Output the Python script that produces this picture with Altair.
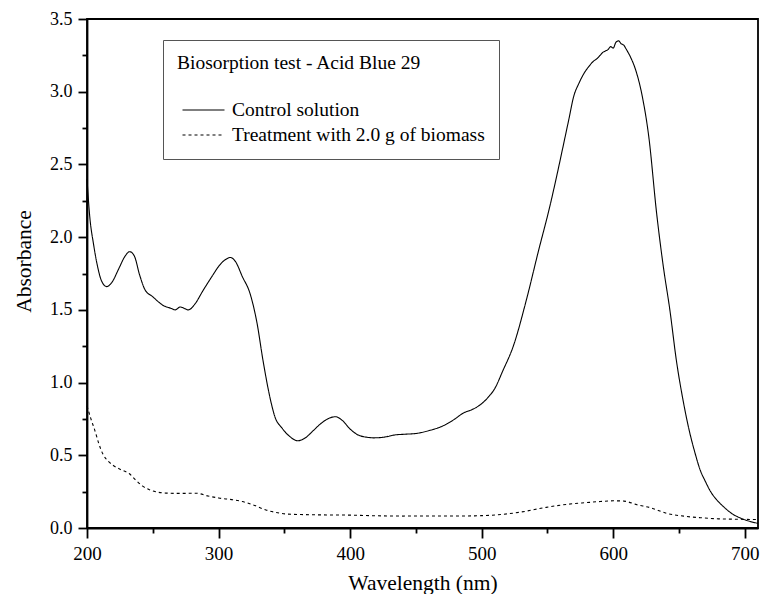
import altair as alt
import pandas as pd

# Control solution (solid line)
ctrl_wl = [200, 202, 205, 208, 211, 215, 219, 224, 229, 232.5, 236, 240, 244, 250, 258, 264, 267, 271, 274, 277,
           282, 288, 295, 301, 306, 309, 313, 318, 324, 329, 334, 339, 343, 348, 354, 360, 366, 372, 378, 384,
           389, 394, 400, 406, 412, 418, 426, 434, 442, 450, 460, 470, 478, 486, 494, 500, 505, 510, 516, 524,
           534, 543, 552, 557, 562, 566, 570, 574, 578, 582, 585, 588, 590, 592, 594, 596, 598, 600, 602, 604,
           606, 608, 610, 613, 617, 622, 627, 633, 638, 643, 648, 653, 658, 662, 666, 670, 674, 679, 684, 690,
           697, 704, 710]
ctrl_abs = [2.40, 2.15, 1.95, 1.80, 1.70, 1.66, 1.69, 1.78, 1.87, 1.90, 1.87, 1.74, 1.64, 1.59, 1.53, 1.51, 1.50, 1.52, 1.51, 1.50,
            1.54, 1.63, 1.73, 1.81, 1.85, 1.86, 1.83, 1.73, 1.61, 1.42, 1.14, 0.90, 0.76, 0.69, 0.63, 0.60, 0.62, 0.67, 0.72, 0.755,
            0.765, 0.74, 0.68, 0.64, 0.625, 0.62, 0.625, 0.64, 0.645, 0.65, 0.67, 0.70, 0.74, 0.79, 0.82, 0.855, 0.90, 0.96, 1.08, 1.25,
            1.57, 1.90, 2.22, 2.42, 2.63, 2.80, 2.97, 3.06, 3.13, 3.18, 3.21, 3.23, 3.25, 3.27, 3.28, 3.29, 3.31, 3.30, 3.34, 3.35,
            3.33, 3.32, 3.29, 3.24, 3.15, 2.97, 2.69, 2.16, 1.80, 1.50, 1.15, 0.88, 0.66, 0.52, 0.40, 0.32, 0.25, 0.19, 0.145, 0.10,
            0.067, 0.045, 0.032]

# Treatment with 2.0 g of biomass (dashed line)
treat_wl = [200, 203, 206, 209, 212, 216, 220, 226, 232, 237, 242, 247, 252, 260, 270, 283, 292, 301, 310, 318,
            326, 336, 345, 352, 365, 380, 397, 420, 440, 461, 480, 500, 515, 530, 549, 565, 580, 590, 600, 608,
            618, 628, 641, 655, 666, 680, 695, 710]
treat_abs = [0.84, 0.75, 0.67, 0.58, 0.51, 0.46, 0.43, 0.40, 0.375, 0.33, 0.29, 0.265, 0.25, 0.24, 0.238, 0.239, 0.22, 0.205, 0.195, 0.182,
             0.16, 0.124, 0.105, 0.096, 0.092, 0.09, 0.089, 0.084, 0.082, 0.083, 0.082, 0.085, 0.093, 0.11, 0.142, 0.163, 0.175, 0.182, 0.187, 0.185,
             0.16, 0.14, 0.10, 0.08, 0.071, 0.063, 0.06, 0.058]

series_names = ["Control solution", "Treatment with 2.0 g of biomass"]
x_ticks = [200, 250, 300, 350, 400, 450, 500, 550, 600, 650, 700]
y_ticks = [0, 0.25, 0.5, 0.75, 1.0, 1.25, 1.5, 1.75, 2.0, 2.25, 2.5, 2.75, 3.0, 3.25, 3.5]

df = pd.concat([
    pd.DataFrame({"wavelength": ctrl_wl, "absorbance": ctrl_abs, "series": series_names[0]}),
    pd.DataFrame({"wavelength": treat_wl, "absorbance": treat_abs, "series": series_names[1]}),
])

FONT = "Liberation Serif"

chart = alt.Chart(df).mark_line(color="black", strokeWidth=1.1, interpolate="monotone").encode(
    x=alt.X("wavelength:Q",
            scale=alt.Scale(domain=[200, 710], nice=False, zero=False),
            axis=alt.Axis(title="Wavelength (nm)", values=x_ticks,
                          labelExpr="datum.value % 100 === 0 ? datum.label : ''",
                          tickSize={"condition": {"test": "datum.value % 100 !== 0", "value": 5}, "value": 10},
                          labelFont=FONT, labelFontSize=19, labelPadding=6, labelFlush=False,
                          titleX=335.5, titleY=55, titleBaseline="middle")),
    y=alt.Y("absorbance:Q",
            scale=alt.Scale(domain=[0, 3.5], nice=False),
            axis=alt.Axis(title="Absorbance", values=y_ticks, format=".1f",
                          labelExpr="round(datum.value * 100) % 50 === 0 ? datum.label : ''",
                          tickSize={"condition": {"test": "round(datum.value * 100) % 50 !== 0", "value": 5}, "value": 9},
                          labelFont=FONT, labelFontSize=18, labelPadding=6, labelFlush=False,
                          titleX=-63, titleY=242, titleBaseline="middle")),
    strokeDash=alt.StrokeDash("series:N",
                              scale=alt.Scale(domain=series_names, range=[[1, 0], [3, 3]]),
                              legend=alt.Legend(title="Biosorption test - Acid Blue 29",
                                                orient="none", legendX=76, legendY=21,
                                                padding=14, strokeColor="#555", fillColor="white",
                                                symbolType="M-2,0H2", symbolSize=441,
                                                symbolOffset=15,
                                                symbolStrokeColor="black", symbolStrokeWidth=1.1,
                                                labelFont=FONT, labelFontSize=19.5, labelColor="black",
                                                labelOffset=17, labelLimit=500,
                                                titleFont=FONT, titleFontSize=19.5, titleFontWeight="normal",
                                                titleColor="black", titlePadding=25, titleLimit=500,
                                                rowPadding=4)),
).properties(
    width=671, height=509,
    autosize=alt.AutoSizeParams(type="none"),
    padding={"left": 79, "top": 11, "right": 5, "bottom": 66},
).configure_view(
    stroke="black", strokeWidth=1.8
).configure_axis(
    domainColor="black", domainWidth=1.8, tickColor="black", tickWidth=1.8,
    labelFont=FONT, labelColor="black",
    titleFont=FONT, titleFontSize=21.5, titleFontWeight="normal", titleColor="black",
    grid=False,
)

chart.save("out.html", embed_options={"renderer": "svg", "actions": False})
